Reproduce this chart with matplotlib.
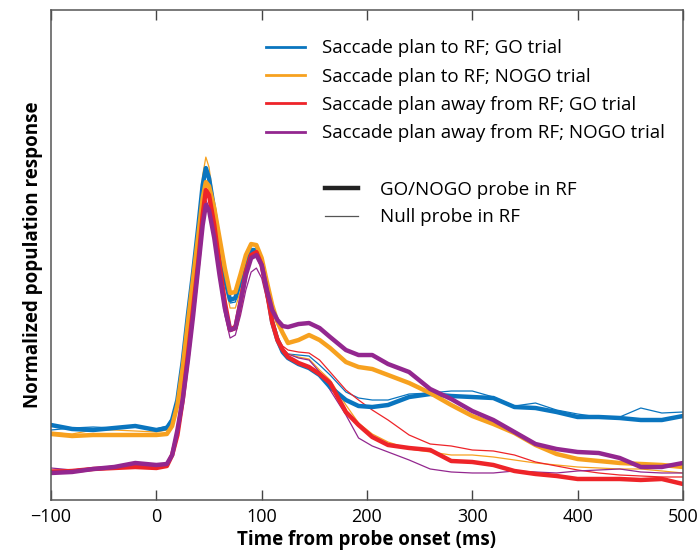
import numpy as np
import matplotlib
matplotlib.use('Agg')
import matplotlib.pyplot as plt
from matplotlib.lines import Line2D

plt.rcParams['font.family'] = ['Open Sans', 'DejaVu Sans']

# time axis (ms from probe onset)
t = [-100, -80, -60, -40, -20, 0, 10, 15, 20, 25, 30, 35, 40, 44, 47, 50, 55, 60, 65, 70,
     75, 80, 85, 90, 95, 100, 105, 110, 115, 120, 125, 135, 145, 155, 165, 180, 192, 205,
     220, 240, 260, 280, 300, 320, 340, 360, 380, 400, 420, 440, 460, 480, 500]

# normalized population response (arbitrary units), GO/NOGO probe in RF (thick)
to_go_probe = [75, 71, 70, 72, 74, 70, 72, 80, 100, 138, 185, 228, 275, 315, 332, 322, 290, 255, 222, 200,
               202, 220, 238, 250, 250, 238, 210, 178, 160, 148, 142, 136, 132, 125, 113, 100, 94, 93,
               95, 103, 106, 104, 103, 102, 93, 92, 88, 83, 83, 82, 80, 80, 84]
to_nogo_probe = [66, 64, 65, 65, 65, 65, 66, 74, 95, 132, 178, 222, 266, 302, 318, 314, 292, 262, 232, 207,
                 208, 226, 245, 256, 255, 242, 218, 195, 178, 167, 157, 160, 165, 160, 152, 138, 133, 131,
                 125, 117, 107, 95, 84, 76, 67, 55, 46, 41, 39, 37, 36, 35, 33]
away_go_probe = [28, 29, 31, 32, 33, 32, 34, 45, 65, 100, 145, 192, 240, 285, 310, 305, 275, 235, 198, 170,
                 172, 198, 228, 245, 248, 235, 208, 178, 160, 150, 143, 137, 133, 126, 117, 88, 75, 63,
                 55, 52, 50, 39, 38, 35, 29, 26, 24, 21, 21, 21, 20, 21, 16]
away_nogo_probe = [27, 28, 31, 33, 37, 35, 36, 45, 70, 100, 140, 185, 235, 275, 295, 290, 262, 225, 192, 170,
                   172, 198, 225, 242, 245, 235, 210, 190, 180, 174, 173, 176, 177, 172, 163, 150, 145, 145,
                   136, 128, 111, 101, 89, 80, 68, 56, 51, 48, 47, 42, 33, 33, 37]

# null probe in RF (thin)
to_go_null = [70, 72, 73, 72, 73, 71, 74, 82, 103, 142, 188, 230, 275, 312, 328, 318, 285, 250, 217, 197,
              198, 215, 232, 244, 246, 234, 206, 176, 158, 150, 146, 145, 144, 135, 125, 108, 102, 100,
              100, 106, 107, 109, 109, 103, 94, 97, 90, 86, 83, 83, 92, 87, 88]
to_nogo_null = [68, 66, 70, 70, 69, 68, 70, 78, 98, 136, 183, 230, 280, 325, 343, 333, 295, 255, 218, 192,
                192, 210, 232, 248, 252, 240, 212, 184, 165, 152, 146, 143, 141, 130, 120, 95, 77, 66,
                58, 51, 48, 45, 45, 43, 40, 37, 35, 33, 32, 31, 31, 29, 27]
away_go_null = [30, 30, 32, 33, 32, 33, 35, 46, 66, 100, 145, 190, 238, 282, 310, 303, 272, 232, 196, 172,
                175, 202, 232, 248, 250, 238, 210, 182, 163, 154, 150, 148, 147, 140, 128, 110, 100, 90,
                80, 65, 56, 54, 50, 49, 45, 38, 34, 30, 27, 25, 24, 23, 23]
away_nogo_null = [32, 30, 32, 34, 35, 34, 35, 44, 68, 98, 138, 182, 232, 280, 300, 293, 260, 220, 185, 162,
                  165, 185, 210, 228, 232, 222, 200, 178, 163, 152, 146, 142, 140, 128, 110, 85, 62, 54,
                  48, 40, 31, 28, 27, 27, 29, 28, 27, 29, 30, 31, 28, 27, 27]

labels = ['Saccade plan to RF; GO trial', 'Saccade plan to RF; NOGO trial',
          'Saccade plan away from RF; GO trial', 'Saccade plan away from RF; NOGO trial']
colors = ['#0a75bf', '#f7a11f', '#ee2429', '#93278f']
thick = [to_go_probe, to_nogo_probe, away_go_probe, away_nogo_probe]
thin = [to_go_null, to_nogo_null, away_go_null, away_nogo_null]

fig = plt.figure(figsize=(6.99, 5.51), dpi=100)
ax = fig.add_axes([0.073, 0.0926, 0.904, 0.889])

for ys, c in zip(thin, colors):
    ax.plot(t, ys, color=c, lw=0.9, solid_joinstyle='round')
for ys, c in zip(thick, colors):
    ax.plot(t, ys, color=c, lw=3.2, solid_capstyle='round', solid_joinstyle='round')

ax.set_xlim(-100, 500)
ax.set_ylim(0, 490)
ax.set_xticks([-100, 0, 100, 200, 300, 400, 500])
ax.set_xticklabels(['\u2212100', '0', '100', '200', '300', '400', '500'])
ax.set_yticks([])
ax.tick_params(axis='x', direction='in', length=7, width=1, top=True, labelsize=13,
               color='#444444', pad=6)
for s in ax.spines.values():
    s.set_color('#555555')
    s.set_linewidth(1.1)

ax.set_xlabel('Time from probe onset (ms)', fontsize=13.5, fontweight='bold', labelpad=3)
ax.set_ylabel('Normalized population response', fontsize=13.5, fontweight='bold', labelpad=6)

h1 = [Line2D([], [], color=c, lw=2.0) for c in colors]
leg1 = ax.legend(h1, labels, loc='upper left', bbox_to_anchor=(0.328, 0.956), frameon=False,
                 fontsize=13.5, handlelength=2.1, handletextpad=0.9, labelspacing=0.55,
                 borderaxespad=0)
ax.add_artist(leg1)
h2 = [Line2D([], [], color='#222222', lw=3.2), Line2D([], [], color='#555555', lw=0.9)]
ax.legend(h2, ['GO/NOGO probe in RF', 'Null probe in RF'], loc='upper left',
          bbox_to_anchor=(0.421, 0.667), frameon=False, fontsize=13.5, handlelength=1.8,
          handletextpad=1.15, labelspacing=0.5, borderaxespad=0)

fig.savefig('out.png', dpi=100)
